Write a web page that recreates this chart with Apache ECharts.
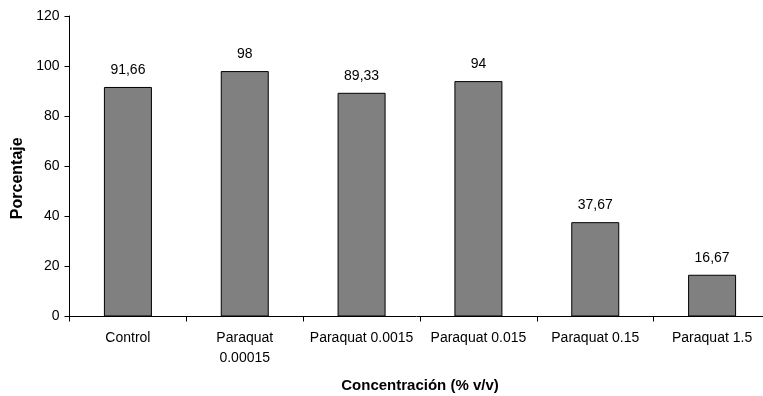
<!DOCTYPE html>
<html><head><meta charset="utf-8">
<script src="https://cdn.jsdelivr.net/npm/echarts@6/dist/echarts.min.js"></script>
<style>html,body{margin:0;padding:0;background:#fff}#c{width:763px;height:396px}</style>
</head><body><div id="c"></div>
<script>
const categories = ["Control", "Paraquat\n0.00015", "Paraquat 0.0015", "Paraquat 0.015", "Paraquat 0.15", "Paraquat 1.5"];
const values = [91.66, 98, 89.33, 94, 37.67, 16.67];
const valueLabels = ["91,66", "98", "89,33", "94", "37,67", "16,67"];
const yTicks = [0, 20, 40, 60, 80, 100, 120];

const chart = echarts.init(document.getElementById('c'));
const font = 'Liberation Sans, Arial, sans-serif';
chart.setOption({
  animation: false,
  grid: {left: 69.5, top: 16, width: 701, height: 300.5, containLabel: false, outerBoundsMode: 'none'},
  xAxis: {
    type: 'category', data: categories,
    name: 'Concentración (% v/v)', nameLocation: 'middle', nameGap: 62,
    nameTextStyle: {fontFamily: font, fontSize: 15, fontWeight: 'bold', color: '#000'},
    axisLine: {lineStyle: {color: '#000', width: 1}},
    axisTick: {show: true, alignWithLabel: false, length: 5, lineStyle: {color: '#000'}},
    axisLabel: {interval: 0, fontFamily: font, fontSize: 14, color: '#000', margin: 12, lineHeight: 20}
  },
  yAxis: {
    type: 'value', min: yTicks[0], max: yTicks[yTicks.length - 1], interval: 20,
    name: 'Porcentaje', nameLocation: 'middle', nameGap: 40, nameRotate: 90,
    nameTextStyle: {fontFamily: font, fontSize: 16, fontWeight: 'bold', color: '#000', padding: [0, 24, 0, 0]},
    axisLine: {show: true, lineStyle: {color: '#000', width: 1}},
    axisTick: {show: true, length: 5, lineStyle: {color: '#000'}},
    splitLine: {show: false},
    axisLabel: {fontFamily: font, fontSize: 14, color: '#000', margin: 10}
  },
  series: [{
    type: 'bar', data: values, barWidth: 48,
    itemStyle: {color: '#808080', borderColor: '#000', borderWidth: 1},
    label: {show: true, position: 'top', distance: 10, fontFamily: font, fontSize: 14, color: '#000',
      formatter: p => valueLabels[p.dataIndex]}
  }]
});
</script></body></html>
